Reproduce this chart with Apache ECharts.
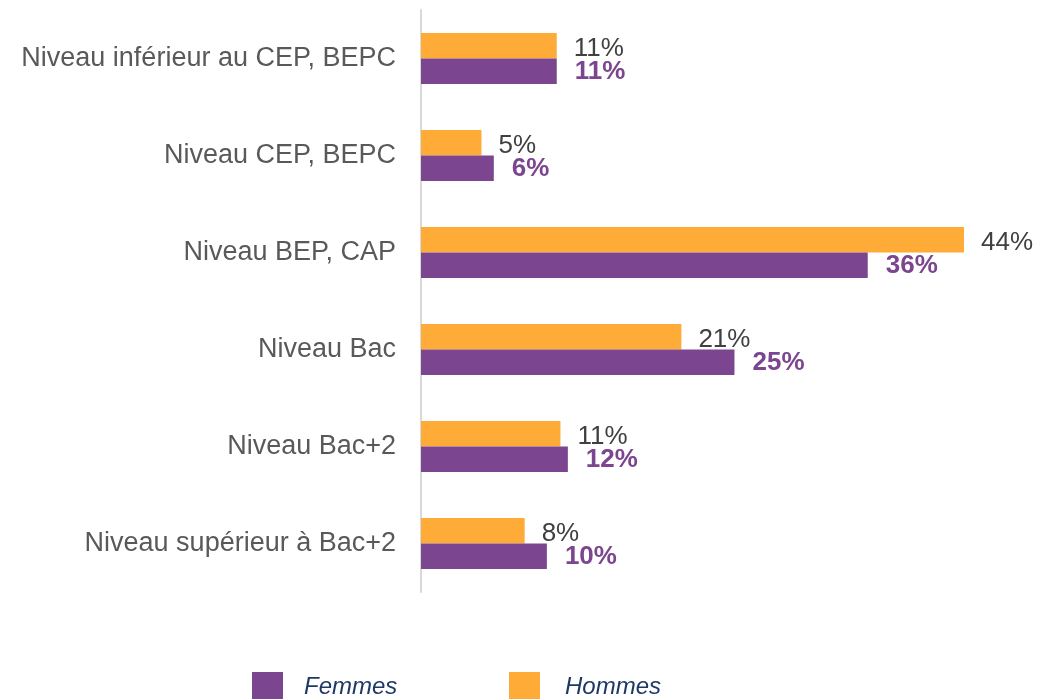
<!DOCTYPE html>
<html>
<head>
<meta charset="utf-8">
<script src="https://cdn.jsdelivr.net/npm/echarts@6/dist/echarts.min.js"></script>
<style>
  html, body { margin: 0; padding: 0; background: #fff; }
  #chart { width: 1038px; height: 699px; }
</style>
</head>
<body>
<div id="chart"></div>
<script>
// categories top to bottom
var categories = [
  "Niveau inférieur au CEP, BEPC",
  "Niveau CEP, BEPC",
  "Niveau BEP, CAP",
  "Niveau Bac",
  "Niveau Bac+2",
  "Niveau supérieur à Bac+2"
];
var hommes = [11.0, 4.9, 44.0, 21.1, 11.3, 8.4];
var femmes = [11.0, 5.9, 36.2, 25.4, 11.9, 10.2];

var orange = "#ffab38";
var purple = "#7b468f";

var myChart = echarts.init(document.getElementById("chart"));

var options = {
  animation: false,
  textStyle: { fontFamily: "Liberation Sans, Arial, sans-serif" },
  grid: { left: 421, right: 74, top: 10, height: 582 },
  xAxis: {
    type: "value",
    min: 0,
    max: 44,
    show: false
  },
  yAxis: {
    type: "category",
    inverse: true,
    data: categories,
    axisLine: { show: true, lineStyle: { color: "#d9d9d9", width: 2 } },
    axisTick: { show: false },
    axisLabel: { color: "#595959", fontSize: 27, margin: 25 }
  },
  legend: [
    {
      data: ["Femmes"],
      left: 247,
      top: 667,
      itemWidth: 31,
      itemHeight: 31,
      icon: "rect",
      textStyle: { fontSize: 24, fontStyle: "italic", color: "#1f3864", padding: [0, 0, 0, 16] }
    },
    {
      data: ["Hommes"],
      left: 504,
      top: 667,
      itemWidth: 31,
      itemHeight: 31,
      icon: "rect",
      textStyle: { fontSize: 24, fontStyle: "italic", color: "#1f3864", padding: [0, 0, 0, 20] }
    }
  ],
  series: [
    {
      name: "Hommes",
      type: "bar",
      data: hommes,
      barWidth: 25.5,
      barGap: "0%",
      itemStyle: { color: orange },
      label: {
        show: true,
        position: "right",
        distance: 17,
        fontSize: 26,
        color: "#404040",
        offset: [0, 3],
        formatter: function (p) { return Math.round(p.value) + "%"; }
      }
    },
    {
      name: "Femmes",
      type: "bar",
      data: femmes,
      barWidth: 25.5,
      barGap: "0%",
      itemStyle: { color: purple },
      label: {
        show: true,
        position: "right",
        distance: 18,
        fontSize: 26,
        fontWeight: "bold",
        color: purple,
        offset: [0, 1],
        formatter: function (p) { return Math.round(p.value) + "%"; }
      }
    }
  ]
};

myChart.setOption(options);
</script>
</body>
</html>
